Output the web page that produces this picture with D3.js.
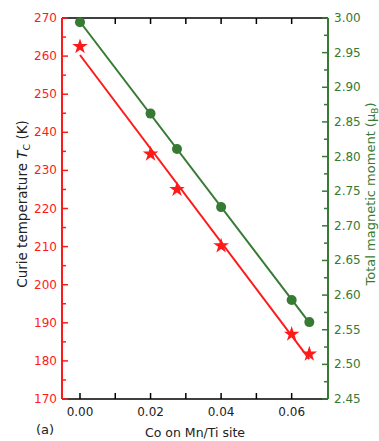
<!DOCTYPE html>
<html>
<head>
<meta charset="utf-8">
<script src="https://cdn.jsdelivr.net/npm/d3@7"></script>
<style>
  body { margin: 0; background: #fff; }
  text { font-family: "DejaVu Sans", Verdana, sans-serif; }
</style>
</head>
<body>
<div id="chart"></div>
<script>
// Co content on the Mn/Ti site
const coContent = [0, 0.02, 0.0275, 0.04, 0.06, 0.065];
// Curie temperature (K)
const curieTemp = [262.5, 234.3, 225, 210.2, 187, 181.8];
// total magnetic moment (muB)
const moment = [2.994, 2.862, 2.811, 2.727, 2.593, 2.561];

const xTicks = [0, 0.01, 0.02, 0.03, 0.04, 0.05, 0.06];
const xLabels = [0, 0.02, 0.04, 0.06];

const width = 379;
const height = 441;
const margin = { top: 18, right: 51, bottom: 42, left: 62 };

const red = "#ff1a1a";
const green = "#367a34";

const svg = d3.select("#chart").append("svg")
  .attr("width", width)
  .attr("height", height);

const x = d3.scaleLinear().domain([-0.0051, 0.0703])
  .range([margin.left, width - margin.right]);
const yL = d3.scaleLinear().domain([170, 270])
  .range([height - margin.bottom, margin.top]);
const yR = d3.scaleLinear().domain([2.45, 3.0])
  .range([height - margin.bottom, margin.top]);

function fit(xs, ys) {
  const mx = d3.mean(xs), my = d3.mean(ys);
  let sxy = 0, sxx = 0;
  xs.forEach((v, i) => {
    sxy += (v - mx) * (ys[i] - my);
    sxx += (v - mx) * (v - mx);
  });
  const b = sxy / sxx;
  return (v) => my + b * (v - mx);
}

const x0 = x.range()[0], x1 = x.range()[1];
const yTop = yL.range()[1], yBot = yL.range()[0];

// top / bottom frame lines
svg.append("line").attr("x1", x0).attr("x2", x1).attr("y1", yTop).attr("y2", yTop)
  .attr("stroke", "#000").attr("stroke-width", 1.5);
svg.append("line").attr("x1", x0).attr("x2", x1).attr("y1", yBot).attr("y2", yBot)
  .attr("stroke", "#000").attr("stroke-width", 1.5);

// x ticks (inward, top and bottom)
svg.selectAll(".xt").data(xTicks).join("line")
  .attr("x1", d => x(d)).attr("x2", d => x(d))
  .attr("y1", yBot).attr("y2", yBot - 6)
  .attr("stroke", "#000").attr("stroke-width", 1.5);
svg.selectAll(".xtt").data(xTicks).join("line")
  .attr("x1", d => x(d)).attr("x2", d => x(d))
  .attr("y1", yTop).attr("y2", yTop + 6)
  .attr("stroke", "#000").attr("stroke-width", 1.5);
svg.selectAll(".xl").data(xLabels).join("text")
  .attr("x", d => x(d)).attr("y", yBot + 17)
  .attr("text-anchor", "middle").attr("font-size", 12).attr("fill", "#222")
  .text(d => d.toFixed(2));

// left axis
svg.append("line").attr("x1", x0).attr("x2", x0).attr("y1", yTop).attr("y2", yBot)
  .attr("stroke", red).attr("stroke-width", 2);
svg.selectAll(".ylt").data(d3.range(170, 270.1, 5)).join("line")
  .attr("x1", x0).attr("x2", d => x0 + (d % 10 === 0 ? 6 : 4))
  .attr("y1", d => yL(d)).attr("y2", d => yL(d))
  .attr("stroke", red).attr("stroke-width", 1.5);
svg.selectAll(".yll").data(d3.range(170, 270.1, 10)).join("text")
  .attr("x", x0 - 5).attr("y", d => yL(d) + 4)
  .attr("text-anchor", "end").attr("font-size", 12).attr("fill", red)
  .text(d => d);

// right axis
svg.append("line").attr("x1", x1).attr("x2", x1).attr("y1", yTop).attr("y2", yBot)
  .attr("stroke", green).attr("stroke-width", 2);
const rTicks = d3.range(0, 23).map(i => 2.45 + i * 0.025);
svg.selectAll(".yrt").data(rTicks).join("line")
  .attr("x1", x1).attr("x2", (d, i) => x1 - (i % 2 === 0 ? 6 : 4))
  .attr("y1", d => yR(d)).attr("y2", d => yR(d))
  .attr("stroke", green).attr("stroke-width", 1.5);
svg.selectAll(".yrl").data(rTicks.filter((d, i) => i % 2 === 0)).join("text")
  .attr("x", x1 + 6).attr("y", d => yR(d) + 4)
  .attr("text-anchor", "start").attr("font-size", 12).attr("fill", green)
  .text(d => d.toFixed(2));

// fit lines
const fT = fit(coContent, curieTemp);
const fM = fit(coContent, moment);
const xEnds = d3.extent(coContent);
svg.append("line")
  .attr("x1", x(xEnds[0])).attr("y1", yL(fT(xEnds[0])))
  .attr("x2", x(xEnds[1])).attr("y2", yL(fT(xEnds[1])))
  .attr("stroke", red).attr("stroke-width", 2);
svg.append("line")
  .attr("x1", x(xEnds[0])).attr("y1", yR(fM(xEnds[0])))
  .attr("x2", x(xEnds[1])).attr("y2", yR(fM(xEnds[1])))
  .attr("stroke", green).attr("stroke-width", 2);

// markers
const star = d3.symbol().type(d3.symbolStar).size(75);
svg.selectAll(".star").data(coContent).join("path")
  .attr("d", star)
  .attr("transform", (d, i) => `translate(${x(d)},${yL(curieTemp[i])})`)
  .attr("fill", red);
svg.selectAll(".dot").data(coContent).join("circle")
  .attr("cx", d => x(d)).attr("cy", (d, i) => yR(moment[i]))
  .attr("r", 5).attr("fill", green);

// axis titles
svg.append("text")
  .attr("x", (x0 + x1) / 2).attr("y", 437)
  .attr("text-anchor", "middle").attr("font-size", 12.5).attr("fill", "#222")
  .text("Co on Mn/Ti site");

const lt = svg.append("text")
  .attr("transform", `translate(27,204) rotate(-90)`)
  .attr("text-anchor", "middle").attr("font-size", 13.5).attr("fill", "#222");
lt.append("tspan").text("Curie temperature ");
lt.append("tspan").attr("font-style", "italic").text("T");
lt.append("tspan").attr("font-size", 9.5).attr("dy", 3).text("C");
lt.append("tspan").attr("dy", -3).text(" (K)");

const rt = svg.append("text")
  .attr("transform", `translate(375,194) rotate(-90)`)
  .attr("text-anchor", "middle").attr("font-size", 13).attr("fill", green);
rt.append("tspan").text("Total magnetic moment (\u03bc");
rt.append("tspan").attr("font-size", 9).attr("dy", 3).text("B");
rt.append("tspan").attr("dy", -3).text(")");

svg.append("text").attr("x", 36).attr("y", 434)
  .attr("font-size", 13).attr("fill", "#222").text("(a)");
</script>
</body>
</html>
